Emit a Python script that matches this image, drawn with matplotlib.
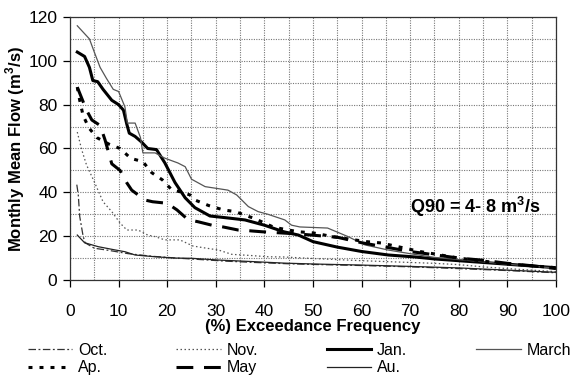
import matplotlib
matplotlib.use("Agg")
import matplotlib.pyplot as plt
from matplotlib.ticker import MultipleLocator

plt.rcParams['font.family'] = ['Liberation Sans', 'DejaVu Sans']
plt.rcParams['mathtext.fontset'] = 'custom'
plt.rcParams['mathtext.rm'] = 'Liberation Sans'
plt.rcParams['mathtext.bf'] = 'Liberation Sans:bold'

# ---- data ----
oct_x = [1.4, 1.7, 2, 2.7, 3.1, 5, 8, 12, 17, 22, 27, 32, 38, 45, 50, 60, 70, 80, 90, 100]
oct_y = [43.5, 39, 29, 20, 17, 14.5, 13.5, 12, 10.8, 10, 9.3, 8.6, 8, 7.4, 7.1, 6.6, 6, 5.2, 4.3, 3.3]

nov_x = [1.5, 2.4, 3.4, 5.1, 6.8, 8.6, 10.3, 11.7, 14, 16, 17.5, 19.5, 22.6, 25.3, 27.8, 30.5,
         33.3, 37, 40.7, 44, 50, 55, 60, 65, 70, 75, 80, 85, 90, 95, 100]
nov_y = [67.5, 59.5, 52.5, 44.3, 35.7, 31.2, 26, 22.8, 22.8, 20.5, 19.8, 18.3, 18.3, 15.5, 14.6, 13.7,
         11.7, 11.2, 10.6, 10.5, 9.8, 9.3, 8.8, 8.4, 8, 7.6, 7, 6, 5.2, 4.5, 3.8]

jan_x = [1.5, 3, 4, 4.7, 5.7, 6.8, 8.6, 10, 11, 11.7, 12.2, 13.4, 14.7, 16, 17.8, 19.5, 21.6, 23.7,
         25.7, 28.8, 32.5, 36, 40, 44, 47, 50, 55, 60, 65.5, 71, 75, 80, 85, 90, 95, 100]
jan_y = [104, 102, 97, 91, 90.5, 87, 82, 80, 77.5, 71, 67, 65.5, 63, 60, 59.5, 53.5, 44.5, 37.5,
         33, 29.2, 28.3, 27.4, 25, 22, 20.5, 17.5, 15, 13, 11.4, 10.5, 9.6, 8.8, 8, 7.2, 6.4, 5.6]

march_x = [1.5, 4, 5, 6.2, 7.5, 8.9, 10, 11.3, 11.8, 13.4, 14.5, 15, 17.5, 19.5, 22.2, 23.7, 25, 27.8,
           32.5, 34.3, 36.7, 38.7, 40.7, 44.2, 45.6, 47.3, 53, 57.2, 60.7, 65.4, 70, 75, 80, 85, 90, 95, 100]
march_y = [116, 110, 104, 97, 92, 87, 86, 79, 71.6, 71.6, 65, 58, 58, 55.6, 53.4, 51.7, 46, 42.6,
           41, 38.8, 33.5, 31.2, 30, 27.4, 25, 24.2, 23.7, 19.8, 16, 13.7, 12, 10.3, 9.3, 8.3, 7.2, 6.3, 5.4]

ap_x = [1.5, 2, 2.7, 3.9, 5.5, 8, 10.3, 12.5, 15, 16.8, 19, 21, 22.6, 24.7, 25.7, 28.5, 31.5, 34,
        38, 42, 47, 50, 54, 61, 64, 72, 80, 85, 90, 95, 100]
ap_y = [88, 82, 75, 69.4, 65, 62, 60, 55.5, 54, 49, 45.7, 41, 40.3, 38.8, 36.5, 34, 32, 31.2,
        28, 24, 22, 21.5, 19.8, 17.5, 16.9, 13, 10, 8.6, 7.4, 6.5, 5.6]

may_x = [1.5, 3.4, 4.5, 6.2, 7.2, 8.6, 10.3, 11.7, 12.7, 15.4, 17, 20, 22, 24.3, 26.3, 29.2, 31.5,
         34.6, 36.7, 39.5, 44, 47, 55, 60, 65, 70, 75, 80, 85, 90, 95, 100]
may_y = [88, 77.5, 73, 70.5, 64, 53, 50, 44.3, 41, 36.5, 35.7, 35, 32, 27.5, 26.6, 25, 24.2,
         22.8, 22.5, 22, 21.4, 21, 19.5, 17, 15, 13, 11.5, 10, 9, 7.6, 6.5, 5.2]

au_x = [1.5, 3, 5.8, 9.3, 11.3, 13.4, 17.5, 21.6, 25, 30.5, 37.5, 44, 50, 60, 70, 80, 90, 100]
au_y = [20.5, 17, 15.2, 13.7, 12.9, 11.4, 10.6, 10, 9.9, 9.1, 8.4, 7.7, 7.3, 6.8, 6.2, 5.5, 4.5, 3.5]

x_ticks = [0, 10, 20, 30, 40, 50, 60, 70, 80, 90, 100]
y_ticks = [0, 20, 40, 60, 80, 100, 120]

# ---- figure ----
fig = plt.figure(figsize=(5.77, 3.78), dpi=100)
ax = fig.add_axes([0.1213, 0.2593, 0.8423, 0.6957])

l_oct, = ax.plot(oct_x, oct_y, color='#333333', lw=0.9, ls=(0, (6, 2, 1.5, 2)), label='Oct.')
l_nov, = ax.plot(nov_x, nov_y, color='#555555', lw=0.9, ls=(0, (1.2, 2)), label='Nov.')
l_jan, = ax.plot(jan_x, jan_y, color='black', lw=2.2, ls='-', label='Jan.')
l_mar, = ax.plot(march_x, march_y, color='#555555', lw=0.9, ls='-', label='March')
l_ap, = ax.plot(ap_x, ap_y, color='black', lw=2.2, ls=(0, (1.3, 2.3)), label='Ap.')
l_may, = ax.plot(may_x, may_y, color='black', lw=2.2, ls=(0, (5.5, 3.5)), label='May')
l_au, = ax.plot(au_x, au_y, color='#222222', lw=0.9, ls='-', label='Au.')

ax.set_xlim(0, 100)
ax.set_ylim(0, 120)
ax.set_xticks(x_ticks)
ax.set_yticks(y_ticks)
ax.xaxis.set_minor_locator(MultipleLocator(5))
ax.yaxis.set_minor_locator(MultipleLocator(10))
ax.grid(which='both', color='#777777', lw=0.8, ls=(0, (1, 1.2)))
ax.set_axisbelow(True)
ax.tick_params(which='major', direction='out', length=5, width=0.9, labelsize=12.5, colors='black', pad=4)
ax.tick_params(which='minor', length=0)
ax.tick_params(axis='x', pad=12)
for s in ax.spines.values():
    s.set_color('#333333')
    s.set_linewidth(0.9)

ax.set_xlabel('(%) Exceedance Frequency', fontsize=12, fontweight='bold', labelpad=0)
ax.set_ylabel('Monthly Mean Flow (m$^\\mathbf{3}$/s)', fontsize=12, fontweight='bold', labelpad=1)

ax.text(83.3, 33.3, 'Q90 = 4- 8 m$^\\mathbf{3}$/s', fontsize=13, fontweight='bold',
        ha='center', va='center')

handles = [l_oct, l_ap, l_nov, l_may, l_jan, l_au, l_mar]
fig.legend(handles=handles, labels=[h.get_label() for h in handles], ncol=4,
           loc='lower left', bbox_to_anchor=(0.037, -0.01), frameon=False, fontsize=11.5,
           handlelength=2.8, handletextpad=0.35, columnspacing=4.3, labelspacing=0.15,
           borderaxespad=0)

fig.savefig('out.png', dpi=100)
